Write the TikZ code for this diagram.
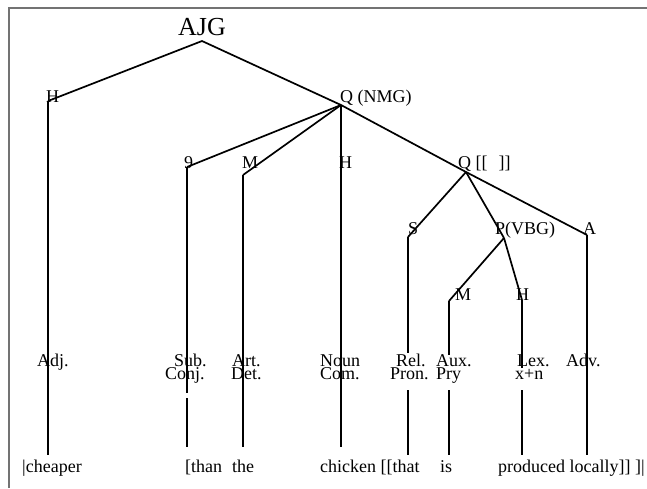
\documentclass[tikz,border=0pt]{standalone}
\usepackage{fontspec}
\setmainfont{Liberation Serif}
\begin{document}
\begin{tikzpicture}[x=1pt,y=-1pt,
  branch/.style={line width=1.7pt,black},
  frameline/.style={line width=1.5pt,black!55},
  lbl/.style={inner sep=0pt,anchor=base west,font=\fontsize{18}{18}\selectfont},
  root/.style={inner sep=0pt,anchor=base west,font=\fontsize{26}{26}\selectfont}]
\useasboundingbox (0,0) rectangle (647,488);

% frame edges
\coordinate (fBL) at (9,488);
\coordinate (fTL) at (9,8);
\coordinate (fTR) at (647,8);
\draw[frameline] (fBL) -- (fTL) -- (fTR);

% function labels
\node[root] (tAJG) at (178,35) {AJG};
\node[lbl] (tH1) at (46,102) {H};
\node[lbl] (tQ1) at (340,102) {Q (NMG)};
\node[lbl] (tG) at (184,168) {9};
\node[lbl] (tM1) at (242,168) {M};
\node[lbl] (tH2) at (339,168) {H};
\node[lbl] (tQ2) at (458,168) {Q [[\hspace{11pt}]]};
\node[lbl] (tS) at (408,234) {S};
\node[lbl] (tP) at (495,234) {P(VBG)};
\node[lbl] (tA) at (583,234) {A};
\node[lbl] (tM2) at (455,300) {M};
\node[lbl] (tH3) at (516,300) {H};

% class labels
\node[lbl] (cAdj) at (37,366) {Adj.};
\node[lbl] (cSubA) at (174,366) {Sub.};
\node[lbl] (cSubB) at (165,379) {Conj.};
\node[lbl] (cArtA) at (232,366) {Art.};
\node[lbl] (cArtB) at (231,379) {Det.};
\node[lbl] (cNounA) at (320,366) {Noun};
\node[lbl] (cNounB) at (320,379) {Com.};
\node[lbl] (cRelA) at (396,366) {Rel.};
\node[lbl] (cRelB) at (390,379) {Pron.};
\node[lbl] (cAuxA) at (436,366) {Aux.};
\node[lbl] (cAuxB) at (436,379) {Pry};
\node[lbl] (cLexA) at (517,366) {Lex.};
\node[lbl] (cLexB) at (515,379) {x+n};
\node[lbl] (cAdv) at (566,366) {Adv.};

% words
\node[lbl] (wCheaper) at (22,472) {|cheaper};
\node[lbl] (wThan) at (185,472) {[than};
\node[lbl] (wThe) at (232,472) {the};
\node[lbl] (wChicken) at (320,472) {chicken [[that};
\node[lbl] (wIs) at (440,472) {is};
\node[lbl] (wProduced) at (498,472) {produced locally]] ]|};

% branching points
\coordinate (jRoot) at (202,41);
\coordinate (jH1) at (48,101);
\coordinate (jQ1) at (341,105);
\coordinate (jG) at (187,167);
\coordinate (jM1) at (243,175);
\coordinate (jQ2) at (466,172);
\coordinate (jS) at (408,237);
\coordinate (jP) at (504,238);
\coordinate (jA) at (587,235);
\coordinate (jM2) at (449,301);
\coordinate (jH3) at (522,300);

% lower ends of the stems
\coordinate (eCheaper) at (48,455);
\coordinate (eThan) at (187,447);
\coordinate (eThe) at (243,447);
\coordinate (eChicken) at (341,447);
\coordinate (eThat) at (408,455);
\coordinate (eIs) at (449,455);
\coordinate (eProduced) at (522,455);
\coordinate (eLocally) at (587,455);

% breaks in some stems
\coordinate (gThanA) at (187,393);
\coordinate (gThanB) at (187,398);
\coordinate (gThatA) at (408,353);
\coordinate (gThatB) at (408,390);
\coordinate (gIsA) at (449,355);
\coordinate (gIsB) at (449,390);
\coordinate (gProdA) at (522,368);
\coordinate (gProdB) at (522,390);
\coordinate (kAdvA) at (587,372);
\coordinate (kAdvB) at (587,380);

% branches
\draw[branch] (jH1) -- (jRoot) -- (jQ1) -- (jQ2) -- (jA);
\draw[branch] (jQ1) -- (jG);
\draw[branch] (jQ1) -- (jM1);
\draw[branch] (jQ2) -- (jS);
\draw[branch] (jQ2) -- (jP);
\draw[branch] (jP) -- (jM2);
\draw[branch] (jP) -- (jH3);

% stems
\draw[branch] (jH1) -- (eCheaper);
\draw[branch] (jG) -- (gThanA);
\draw[branch] (gThanB) -- (eThan);
\draw[branch] (jM1) -- (eThe);
\draw[branch] (jQ1) -- (eChicken);
\draw[branch] (jS) -- (gThatA);
\draw[branch] (gThatB) -- (eThat);
\draw[branch] (jM2) -- (gIsA);
\draw[branch] (gIsB) -- (eIs);
\draw[branch] (jH3) -- (gProdA);
\draw[branch] (gProdB) -- (eProduced);
\draw[branch] (jA) -- (eLocally);
\draw[line width=2.8pt] (kAdvA) -- (kAdvB);
\end{tikzpicture}
\end{document}
